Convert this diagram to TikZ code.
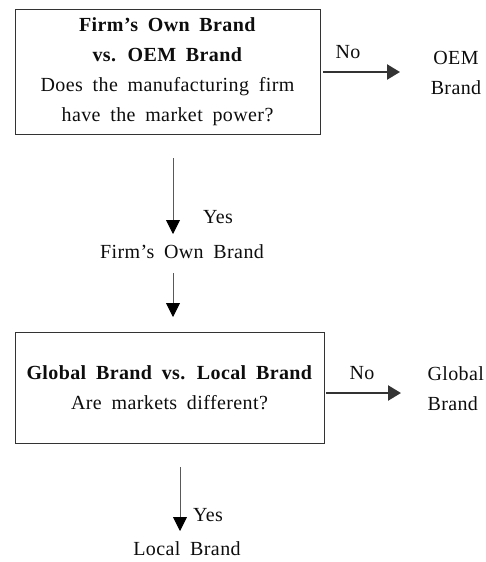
\documentclass[tikz,border=0pt]{standalone}
\usepackage{fontspec}
\setmainfont[LetterSpace=2,WordSpace=1.8]{Liberation Serif}
\usetikzlibrary{arrows.meta}

\begin{document}
\begin{tikzpicture}[x=1pt,y=-1pt,
	every node/.style={font=\fontsize{20}{30}\selectfont,text=black!95},
	box/.style={draw=black!80,line width=0.8pt,align=center,inner sep=0pt},
	noarrow/.style={draw=black!80,line width=2.4pt,-{Triangle[length=13pt,width=15pt]}},
	yesarrow/.style={draw=black!65,line width=0.9pt,-{Triangle[length=14pt,width=14pt,color=black]}}]
	\useasboundingbox (0,0) rectangle (486,562);
	% 第一个判断框
	\node[box,minimum width=305pt,minimum height=125pt] (ownoem) at (167.5,71.5)
		{\textbf{Firm's Own Brand}\\\textbf{vs. OEM Brand}\\Does the manufacturing firm\\have the market power?};
	% 右边：No -> OEM Brand
	\node (nolbla) at (348,52) {No};
	\node[align=center] (oem) at (456,73) {OEM\\Brand};
	\coordinate (noenda) at (400,72);
	\draw[noarrow] ([xshift=3pt,yshift=-0.5pt]ownoem.east) -- (noenda);
	% 向下：Yes -> Firm's Own Brand
	\coordinate (downa) at (173,158);
	\coordinate (tipa) at (173,234);
	\draw[yesarrow] (downa) -- (tipa);
	\node (yesa) at (218,217) {Yes};
	\node (firmown) at (182,252) {Firm's Own Brand};
	\coordinate (downb) at (173,273);
	\coordinate (tipb) at (173,317);
	\draw[yesarrow] (downb) -- (tipb);
	% 第二个判断框
	\node[box,minimum width=309pt,minimum height=111pt] (globloc) at (169.5,387.5)
		{\textbf{Global Brand vs. Local Brand}\\Are markets different?};
	% 右边：No -> Global Brand
	\node (nolblb) at (362,373) {No};
	\node[align=left,anchor=west] (global) at (424,389) {Global\\Brand};
	\coordinate (noendb) at (401,393);
	\draw[noarrow] ([xshift=2pt,yshift=-5.5pt]globloc.east) -- (noendb);
	% 向下：Yes -> Local Brand
	\coordinate (downc) at (180,467);
	\coordinate (tipc) at (180,531);
	\draw[yesarrow] (downc) -- (tipc);
	\node (yesb) at (208,515) {Yes};
	\node (local) at (187,549) {Local Brand};
\end{tikzpicture}
\end{document}
